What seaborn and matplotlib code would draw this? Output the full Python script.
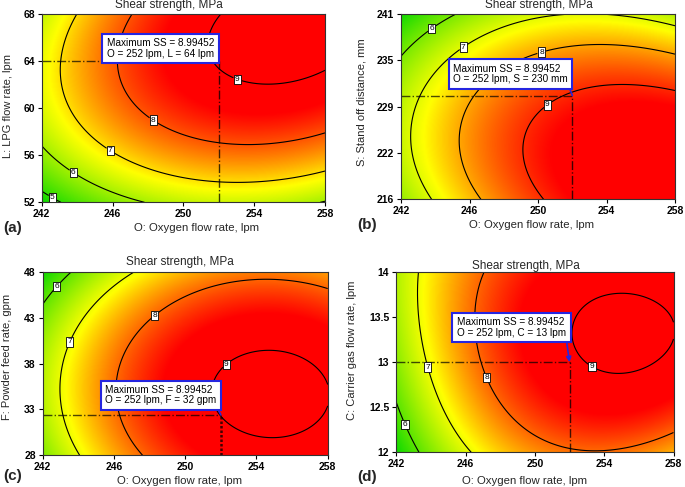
import numpy as np
import matplotlib
matplotlib.use("Agg")
import matplotlib.pyplot as plt
import seaborn as sns
from matplotlib.colors import LinearSegmentedColormap

sns.set_theme(style="ticks")
plt.rcParams["font.family"] = ["Liberation Sans", "DejaVu Sans"]

# ---------------- data ----------------
TITLE = "Shear strength, MPa"
O_label = "O: Oxygen flow rate, lpm"
O_ticks = [242, 246, 250, 254, 258]
O_ticklabels = ["242", "246", "250", "254", "258"]
MAX_SS = 8.99452

# panel (a)  O vs L : contour points (x, y, level)
a_O = [252, 252, 252.8, 254.5, 256.6, 258,
       246.9, 246.4, 246.5, 248.4, 250.2, 251.9, 254.7, 258,
       244.1, 243.1, 243.3, 244.4, 245.95, 248.1, 250.2, 252.4, 254.7, 258,
       242, 243.8, 245.9, 247.5,
       242, 242.9]
a_L = [68, 63.8, 62.7, 62.05, 62.1, 63.4,
       68, 63.8, 61.8, 59.1, 57.6, 57.0, 56.8, 57.9,
       68, 63.8, 59.8, 57.9, 56.6, 54.8, 53.9, 53.7, 53.9, 54.7,
       57.0, 54.75, 53.1, 52.05,
       52.9, 52.05]
a_SS = [9] * 6 + [8] * 8 + [7] * 10 + [6] * 4 + [5] * 2
a_levels = [5, 6, 7, 8, 9]
a_ylim = [52, 68]
a_yticks = [52, 56, 60, 64, 68]
a_yticklabels = ["52", "56", "60", "64", "68"]
a_ylabel = "L: LPG flow rate, lpm"
a_opt = [252, 64]
a_text = "Maximum SS = 8.99452\nO = 252 lpm, L = 64 lpm"
a_labelpos = [(253.1, 62.67), (248.36, 59.13), (245.95, 56.59), (243.86, 54.72), (242.66, 52.53)]

# panel (b)  O vs S
b_O = [242.1, 243.75, 245.7,
       243.76, 242.9, 242.6, 242.7, 243.86, 245.6, 247.5, 249.9, 254.1, 258,
       246.5, 245.6, 245.4, 246.0, 246.76, 247.7, 249.95, 253.9, 258,
       250.15, 249.7, 249.2, 249.3, 250.4, 252, 255.85, 258]
b_S = [235.7, 239.1, 241,
       216.1, 220.4, 225.35, 228.5, 232.5, 236.6, 239.3, 240.6, 240.9, 239.2,
       216.1, 220.4, 224.9, 229.0, 231.2, 233.2, 235.9, 236.8, 235.9,
       216.1, 219.05, 222.65, 224.9, 229.0, 230.3, 231.4, 230.7]
b_SS = [6] * 3 + [7] * 10 + [8] * 9 + [9] * 8
b_levels = [6, 7, 8, 9]
b_ylim = [216, 241]
b_yticks = [216, 222.25, 228.5, 234.75, 241]
b_yticklabels = ["216", "222", "229", "235", "241"]
b_ylabel = "S: Stand off distance, mm"
b_opt = [252, 230]
b_text = "Maximum SS = 8.99452\nO = 252 lpm, S = 230 mm"
b_labelpos = [(243.75, 239.1), (245.6, 236.6), (250.2, 235.8), (250.4, 229.2)]

# panel (c)  O vs F
c_O = [242, 242.75, 243.6,
       247.2, 245.2, 243.5, 243.0, 243.16, 244.1,
       247.6, 246.44, 246.25, 246.7, 248.25, 250.84, 254.6, 258,
       251.77, 252.33, 254.76, 257.2, 257.9, 256.8, 254.95, 252.9]
c_F = [44.25, 46.5, 48,
       48, 44.98, 40.4, 34.8, 32.25, 28,
       28, 30.8, 34.8, 40.25, 43.4, 46.07, 47.1, 46.25,
       34.4, 37.85, 39.2, 38.2, 36.2, 30.8, 29.75, 31.1]
c_SS = [6] * 3 + [7] * 6 + [8] * 8 + [9] * 8
c_levels = [6, 7, 8, 9]
c_ylim = [28, 48]
c_yticks = [28, 33, 38, 43, 48]
c_yticklabels = ["28", "33", "38", "43", "48"]
c_ylabel = "F: Powder feed rate, gpm"
c_opt = [252, 32.4]
c_text = "Maximum SS = 8.99452\nO = 252 lpm, F = 32 gpm"
c_labelpos = [(242.75, 46.5), (243.5, 40.4), (248.25, 43.4), (252.33, 37.85)]

# panel (d)  O vs C
d_O = [242, 242.85, 243.55,
       243.45, 243.1, 243.7, 245.25,
       247.1, 246.45, 247.35, 249.5, 251.9, 252.96,
       252.09, 252.95, 254.56, 257.05, 257.9, 257.05, 255.2, 253.3]
d_C = [12.55, 12.34, 12.0,
       14.0, 13.36, 12.94, 12.0,
       14.0, 13.29, 12.84, 12.42, 12.1, 12.0,
       13.28, 13.62, 13.756, 13.62, 13.28, 12.96, 12.82, 12.97]
d_SS = [6] * 3 + [7] * 4 + [8] * 6 + [9] * 8
d_levels = [6, 7, 8, 9]
d_ylim = [12, 14]
d_yticks = [12, 12.5, 13, 13.5, 14]
d_yticklabels = ["12", "12.5", "13", "13.5", "14"]
d_ylabel = "C: Carrier gas flow rate, lpm"
d_opt = [252, 13.0]
d_text = "Maximum SS = 8.99452\nO = 252 lpm, C = 13 lpm"
d_labelpos = [(242.85, 12.34), (243.7, 12.94), (247.35, 12.84), (253.3, 12.95)]

# ---------------- styling / layout ----------------
W, H = 685, 487
cmap = LinearSegmentedColormap.from_list(
    "gyr", [(0.0, (0.05, 0.85, 0.0)), (0.45, (1.0, 1.0, 0.0)),
            (0.85, (1.0, 0.0, 0.0)), (1.0, (1.0, 0.0, 0.0))])


def px_rect(l, t, r, b):
    return [l / W, 1 - b / H, (r - l) / W, (b - t) / H]


panels = [
    dict(x=a_O, y=a_L, z=a_SS, levels=a_levels, ylim=a_ylim, yticks=a_yticks,
         yticklabels=a_yticklabels, ylabel=a_ylabel, opt=a_opt, text=a_text,
         labelpos=a_labelpos, rect=px_rect(41.7, 14, 325, 202.3), off=(0, -2),
         arrow="-", vstyle="-.", letter="(a)", letter_xy=(3, 228),
         title_xy=(169, 5), xlabel_xy=(197, 228.5), ylabel_xy=(8, 106)),
    dict(x=b_O, y=b_S, z=b_SS, levels=b_levels, ylim=b_ylim, yticks=b_yticks,
         yticklabels=b_yticklabels, ylabel=b_ylabel, opt=b_opt, text=b_text,
         labelpos=b_labelpos, rect=px_rect(401.3, 14, 675, 199.3), off=(0, 7),
         arrow="-", vstyle="-.", letter="(b)", letter_xy=(357, 225),
         title_xy=(539, 5), xlabel_xy=(532, 225), ylabel_xy=(362, 102)),
    dict(x=c_O, y=c_F, z=c_SS, levels=c_levels, ylim=c_ylim, yticks=c_yticks,
         yticklabels=c_yticklabels, ylabel=c_ylabel, opt=c_opt, text=c_text,
         labelpos=c_labelpos, rect=px_rect(42.7, 272, 327.7, 455.3), off=(0, 5),
         arrow="-", vstyle=(0, (1, 0.8)), letter="(c)", letter_xy=(3, 476),
         title_xy=(180, 262), xlabel_xy=(180, 481), ylabel_xy=(7, 357)),
    dict(x=d_O, y=d_C, z=d_SS, levels=d_levels, ylim=d_ylim, yticks=d_yticks,
         yticklabels=d_yticklabels, ylabel=d_ylabel, opt=d_opt, text=d_text,
         labelpos=d_labelpos, rect=px_rect(396.3, 272, 673.5, 452.3), off=(1, 20),
         arrow="-|>", vstyle="-.", letter="(d)", letter_xy=(357, 477),
         title_xy=(526, 266), xlabel_xy=(525, 481), ylabel_xy=(352, 350)),
]

fig = plt.figure(figsize=(W / 100, H / 100), dpi=100)
fig.patch.set_facecolor("white")


def basis(uu, vv):
    return [np.ones_like(uu), uu, vv, uu * uu, vv * vv, uu * vv,
            uu * vv * vv, uu * uu * vv]


N_QUAD = 6
RIDGE = 0.08

for p in panels:
    ax = fig.add_axes(p["rect"])
    ox, oy = p["opt"]
    x = np.asarray(list(p["x"]) + [ox], float)
    y = np.asarray(list(p["y"]) + [oy], float)
    z = np.asarray(list(p["z"]) + [MAX_SS], float)
    x0, x1 = O_ticks[0], O_ticks[-1]
    y0, y1 = p["ylim"]
    xc, xh = (x0 + x1) / 2, (x1 - x0) / 2
    yc, yh = (y0 + y1) / 2, (y1 - y0) / 2

    u, v = (x - xc) / xh, (y - yc) / yh
    A = np.column_stack(basis(u, v))
    nb = A.shape[1]
    R = np.zeros((nb - N_QUAD, nb))
    for i in range(nb - N_QUAD):
        R[i, N_QUAD + i] = np.sqrt(RIDGE)
    coef, *_ = np.linalg.lstsq(np.vstack([A, R]),
                               np.concatenate([z, np.zeros(nb - N_QUAD)]), rcond=None)
    gx = np.linspace(x0, x1, 320)
    gy = np.linspace(y0, y1, 320)
    GX, GY = np.meshgrid(gx, gy)
    GU, GV = (GX - xc) / xh, (GY - yc) / yh
    Z = sum(c * b for c, b in zip(coef, basis(GU, GV)))

    ax.imshow(Z, extent=[x0, x1, y0, y1], origin="lower", aspect="auto",
              cmap=cmap, vmin=Z.min(), vmax=Z.max(), interpolation="bilinear")
    cs = ax.contour(GX, GY, Z, levels=p["levels"], colors="black", linewidths=0.8)
    texts = ax.clabel(cs, fmt="%d", fontsize=6, inline=True, inline_spacing=2,
                      manual=p["labelpos"])
    for t in texts:
        t.set_bbox(dict(boxstyle="square,pad=0.15", fc="white", ec="black", lw=0.6))
        t.set_rotation(0)

    ax.plot([x0, ox], [oy, oy], ls="-.", color="black", alpha=0.7, lw=1.0)
    ax.plot([ox, ox], [y0, oy], ls=p["vstyle"], color="black", alpha=0.75,
            lw=1.0 if p["vstyle"] == "-." else 1.8)

    fs_px = 10.0
    pad = 0.45
    dx, dy = p["off"]
    ax.annotate(p["text"], xy=(ox, oy), xycoords="data",
                xytext=(dx - pad * fs_px, dy + pad * fs_px), textcoords="offset pixels",
                ha="right", va="bottom", multialignment="left",
                fontsize=7.2, linespacing=1.05, color="black",
                bbox=dict(boxstyle=f"square,pad={pad}", fc="white", ec="#2525e0", lw=1.5),
                arrowprops=dict(arrowstyle=p["arrow"], color="#2525e0", lw=1.2,
                                relpos=(1.0, 0.0), shrinkA=0, shrinkB=0), zorder=10)

    ax.set_xlim(x0, x1)
    ax.set_ylim(y0, y1)
    ax.set_xticks(O_ticks)
    ax.set_xticklabels(O_ticklabels)
    ax.set_yticks(p["yticks"])
    ax.set_yticklabels(p["yticklabels"])
    ax.tick_params(axis="both", labelsize=7.5, length=3, width=0.8, pad=2,
                   colors="black", direction="out")
    for lab in ax.get_xticklabels() + ax.get_yticklabels():
        lab.set_fontweight("bold")
    for s in ax.spines.values():
        s.set_visible(True)
        s.set_color("#333333")
        s.set_linewidth(0.8)

    fig.text(p["title_xy"][0] / W, 1 - p["title_xy"][1] / H, TITLE,
             ha="center", va="center", fontsize=8.5)
    fig.text(p["xlabel_xy"][0] / W, 1 - p["xlabel_xy"][1] / H, O_label,
             ha="center", va="center", fontsize=8.2)
    fig.text(p["ylabel_xy"][0] / W, 1 - p["ylabel_xy"][1] / H, p["ylabel"],
             ha="center", va="center", fontsize=8, rotation=90)
    fig.text(p["letter_xy"][0] / W, 1 - p["letter_xy"][1] / H, p["letter"],
             ha="left", va="center", fontsize=11, fontweight="bold")

fig.savefig("out.png", dpi=100)
